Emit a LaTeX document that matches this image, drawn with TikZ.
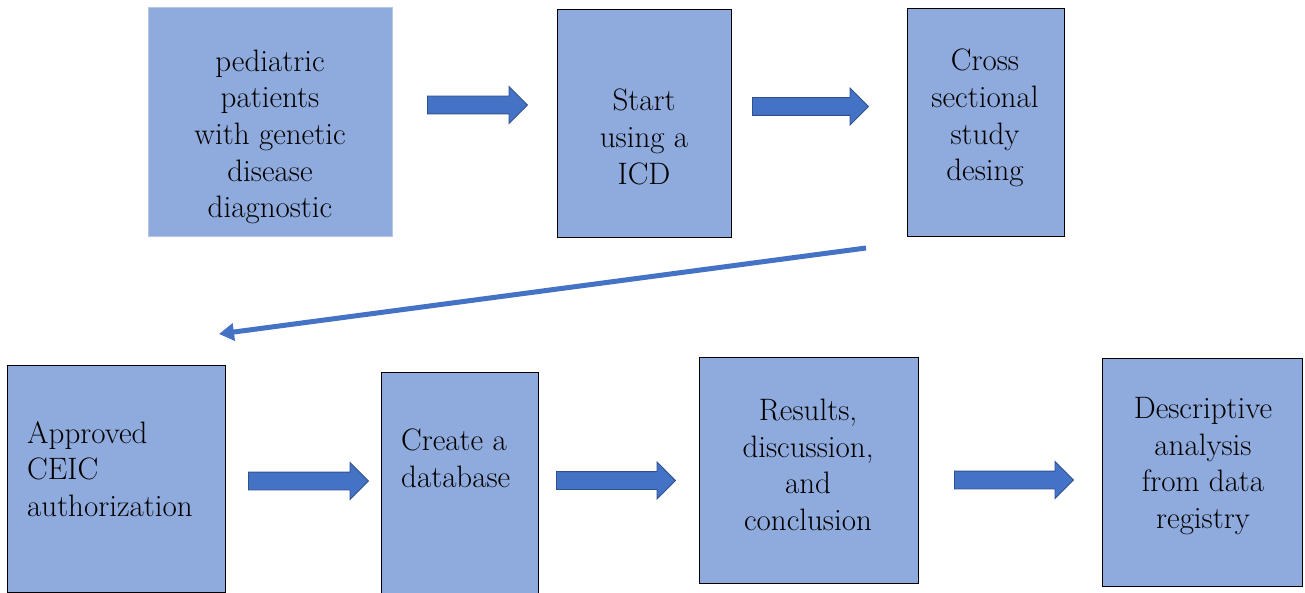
\documentclass[tikz,border=0pt]{standalone}
\usetikzlibrary{arrows.meta,shapes.arrows}
\definecolor{boxfill}{HTML}{8FAADC}
\definecolor{arrowfill}{HTML}{4472C4}
\definecolor{arrowedge}{HTML}{2F528F}
\definecolor{paleedge}{HTML}{B4C7E7}
\newcommand{\linkarrowstyle}{-{Triangle[length=15pt,width=17pt]}}

\begin{document}
\begin{tikzpicture}[
    x=1pt, y=-1pt,
    font=\rmfamily\fontsize{31}{36.7}\selectfont,
    stagebox/.style={draw=black, line width=0.9pt, fill=boxfill, inner sep=0pt, anchor=north west},
    stagetext/.style={align=center, inner sep=0pt},
    stageleft/.style={align=left, inner sep=0pt, anchor=west},
    blockarrow/.style={single arrow, draw=arrowedge, fill=arrowfill, line width=0.9pt, inner xsep=0pt, inner ysep=8.5pt, single arrow head extend=9.5pt, anchor=tail},
    link/.style={\linkarrowstyle, draw=arrowfill, line width=5pt}
]
  \useasboundingbox (0,0) rectangle (1305,593);

  % top row stages
  \node[stagebox, draw=paleedge, line width=1.3pt, minimum width=244pt, minimum height=229pt] (stage-1) at (148,7) {};
  \node[stagebox, minimum width=174pt, minimum height=228pt] (stage-2) at (557,9) {};
  \node[stagebox, minimum width=157pt, minimum height=228pt] (stage-3) at (907,8) {};

  % bottom row stages
  \node[stagebox, minimum width=218pt, minimum height=227pt] (stage-4) at (7,365) {};
  \node[stagebox, minimum width=157pt, minimum height=240pt] (stage-5) at (381,372) {};
  \node[stagebox, minimum width=219pt, minimum height=226pt] (stage-6) at (699,357) {};
  \node[stagebox, minimum width=200pt, minimum height=228pt] (stage-7) at (1102,358) {};

  % stage texts
  \node[stagetext] (text-1) at (270,137) {pediatric\\patients\\with genetic\\disease\\diagnostic};
  \node[stagetext] (text-2) at (644,137) {Start\\using a\\ICD};
  \node[stagetext] (text-3) at (985,118) {Cross\\sectional\\study\\desing};
  \node[stageleft] (text-4) at (27,469) {Approved\\CEIC\\authorization};
  \node[stageleft] (text-5) at (401,458) {Create a\\database};
  \node[stagetext] (text-6) at (808,465) {Results,\\discussion,\\and\\conclusion};
  \node[stagetext] (text-7) at (1203,466) {Descriptive\\analysis\\from data\\registry};

  % block arrows between stages
  \node[blockarrow, minimum height=100pt] (step-1) at (427,105) {};
  \node[blockarrow, minimum height=116pt] (step-2) at (752,106.5) {};
  \node[blockarrow, minimum height=120pt] (step-4) at (248,481) {};
  \node[blockarrow, minimum height=119pt] (step-5) at (556,480.5) {};
  \node[blockarrow, minimum height=119pt] (step-6) at (954,480) {};

  % return arrow to the second row
  \coordinate (link-start) at (866,248);
  \coordinate (link-end) at (219,334);
  \draw[link] (link-start) -- (link-end);
\end{tikzpicture}
\end{document}
